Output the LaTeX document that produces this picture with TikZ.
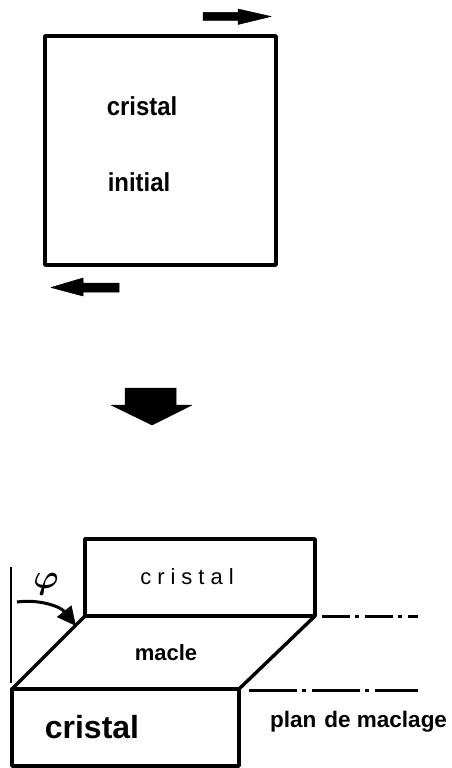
\documentclass[tikz,border=0pt]{standalone}
\usepackage{amsmath,amssymb,bm}
\usepackage{fontspec}
\setmainfont{Liberation Sans}
\newfontfamily\condbf[FakeStretch=0.92]{Liberation Sans}
\newfontfamily\wide{Liberation Sans}
\usetikzlibrary{arrows.meta}
\tikzset{
  box/.style={draw, line width=3.4pt, line join=round},
  blk/.style={fill=black, draw=black, line width=0.5pt, line join=round},
  lbl/.style={inner sep=0pt, font=\condbf\bfseries},
  plane/.style={line width=3pt, dash pattern=on 28pt off 5pt on 4pt off 6pt}
}
\begin{document}
\begin{tikzpicture}[x=1pt,y=-1pt]
\useasboundingbox (0,0) rectangle (451,768);
% top square
\draw[box] (45,36) rectangle (276,265);
\node[lbl, font=\condbf\bfseries\fontsize{26}{28}\selectfont] (c1) at (142,106) {cristal};
\node[lbl, font=\condbf\bfseries\fontsize{26}{28}\selectfont] (i1) at (139,182) {initial};
% shear arrows
\fill[blk] (203,12.5) -- (238,12.5) -- (238,9) -- (271,16.5) -- (238,24.5) -- (238,20.5) -- (203,20.5) -- cycle;
\fill[blk] (119,283) -- (83,283) -- (83,278) -- (51,287.5) -- (83,296) -- (83,292) -- (119,292) -- cycle;
% big down arrow
\fill[blk] (125,388) -- (176,388) -- (176,405) -- (192,405) -- (152,425) -- (111,405) -- (125,405) -- cycle;
% bottom figure
\coordinate (ul) at (85,616);
\coordinate (ur) at (315,616);
\coordinate (ll) at (12,689);
\coordinate (lr) at (239,689);
\draw[box] (85,539) rectangle (315,616);
\draw[box] (ul) -- (ur) -- (lr) -- (ll) -- cycle;
\draw[box] (12,689) rectangle (239,766);
\node[inner sep=0pt, font=\wide\fontsize{22}{24}\selectfont] (c2) at (187,577) {c\hspace{6pt}r\hspace{6pt}i\hspace{6pt}s\hspace{6pt}t\hspace{6pt}a\hspace{6pt}l};
\node[inner sep=0pt, font=\wide\bfseries\fontsize{22}{26}\selectfont] (m) at (166,653) {macle};
\node[inner sep=0pt, font=\wide\bfseries\fontsize{32}{34}\selectfont] (c3) at (92,727) {cristal};
\node[inner sep=0pt, font=\wide\bfseries\fontsize{22.5}{26}\selectfont, anchor=west] (p) at (270,722) {plan\hspace{8pt}de maclage};
% vertical reference line and angle
\coordinate (v1) at (11,567);
\coordinate (v2) at (11,683);
\draw[line width=2.6pt] (v1) -- (v2);
\node[inner sep=0pt] (phi) at (46,584) {\scalebox{3.4}{$\bm{\varphi}$}};
\coordinate (a0) at (17,602);
\coordinate (a1) at (76,626);
\draw[line width=3pt, -{Triangle[length=19pt,width=18pt]}] (a0) .. controls (38,599) and (60,606) .. (a1);
% twinning plane lines
\coordinate (d1) at (322,616);
\coordinate (d2) at (418,616);
\coordinate (d3) at (249,690);
\coordinate (d4) at (418,690);
\draw[plane] (d1) -- (d2);
\draw[line width=3pt, dash pattern=on 48pt off 5pt on 4pt off 6pt] (d3) -- (d4);
\end{tikzpicture}
\end{document}
